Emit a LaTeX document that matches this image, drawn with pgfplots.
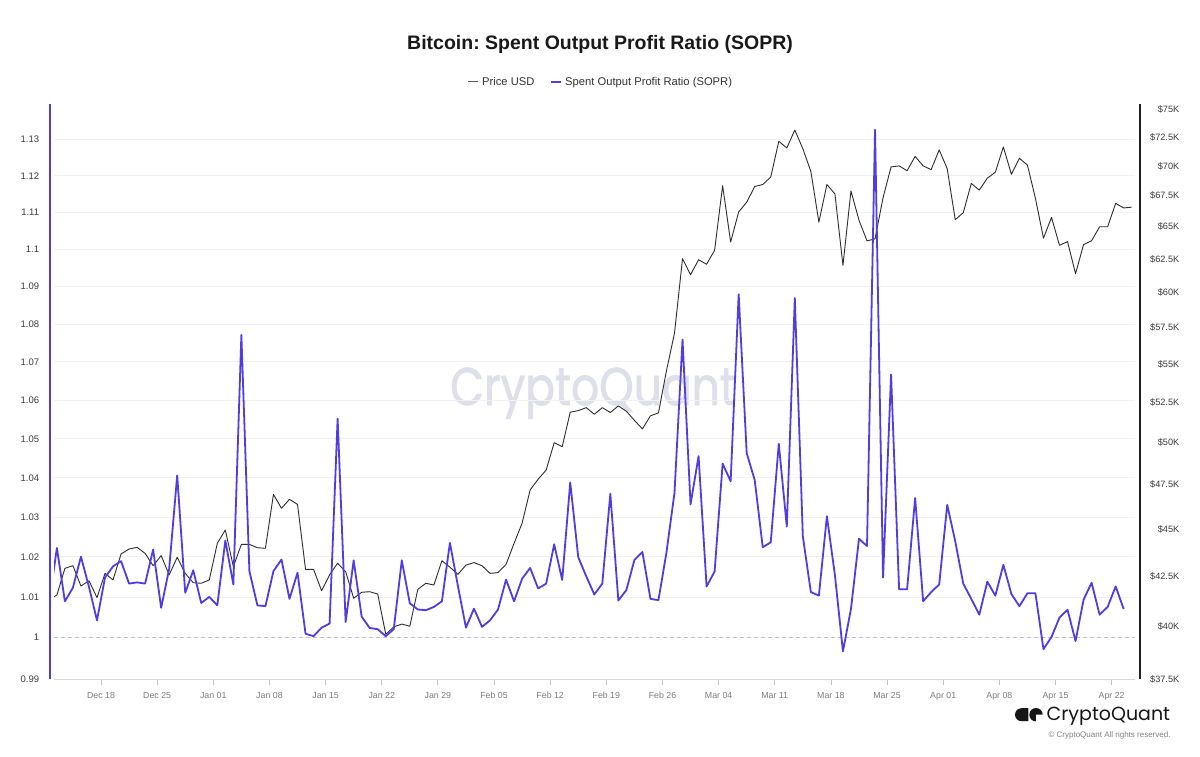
\documentclass[border=0pt]{standalone}
\usepackage{fontspec}
\setmainfont{Liberation Sans}
\newfontfamily\logofont{Poppins}
\newfontfamily\wmfont{Poppins}[FakeBold=1.6]
\usepackage{pgfplots}
\pgfplotsset{compat=1.18}
\usepackage{pgfplotstable}
\definecolor{sopr}{RGB}{80,60,225}
\definecolor{priceline}{RGB}{45,45,45}
\definecolor{ticktext}{RGB}{60,60,60}
\definecolor{xtext}{RGB}{125,125,125}
\definecolor{wmark}{RGB}{223,223,233}
\definecolor{logoblack}{RGB}{22,22,22}
\definecolor{zeroline}{RGB}{190,190,212}
\frenchspacing

\pgfplotsset{
  lny/.style={
    y coord trafo/.code={\pgfmathparse{ln(##1)}},
    y coord inv trafo/.code={\pgfmathparse{exp(##1)}},
  },
}

% x = days after Dec 18 2023 (data points sit at mid-day)
\pgfplotstableread{
x p
-6.5 41.30
-5.5 41.53
-4.5 42.90
-3.5 43.04
-2.5 41.99
-1.5 42.26
-0.5 41.40
0.5 42.64
1.5 42.30
2.5 43.66
3.5 43.92
4.5 44.01
5.5 43.69
6.5 43.04
7.5 43.57
8.5 42.56
9.5 43.48
10.5 42.64
11.5 42.16
12.5 42.13
13.5 42.30
14.5 44.23
15.5 44.95
16.5 42.99
17.5 44.17
18.5 44.17
19.5 43.99
20.5 43.96
21.5 46.94
22.5 46.15
23.5 46.66
24.5 46.37
25.5 42.85
26.5 42.85
27.5 41.75
28.5 42.56
29.5 43.17
30.5 42.73
31.5 41.37
32.5 41.67
33.5 41.70
34.5 41.58
35.5 39.60
36.5 39.96
37.5 40.09
38.5 39.99
39.5 41.82
40.5 42.13
41.5 42.04
42.5 43.30
43.5 42.96
44.5 42.59
45.5 43.07
46.5 43.20
47.5 43.04
48.5 42.64
49.5 42.68
50.5 43.11
51.5 44.23
52.5 45.32
53.5 47.19
54.5 47.81
55.5 48.35
56.5 49.98
57.5 49.74
58.5 51.87
59.5 51.97
60.5 52.16
61.5 51.74
62.5 52.16
63.5 51.85
64.5 52.27
65.5 51.93
66.5 51.36
67.5 50.83
68.5 51.64
69.5 51.83
70.5 54.56
71.5 57.11
72.5 62.52
73.5 61.31
74.5 62.44
75.5 62.10
76.5 63.16
77.5 68.33
78.5 63.80
79.5 66.18
80.5 66.96
81.5 68.26
82.5 68.42
83.5 69.04
84.5 72.11
85.5 71.53
86.5 73.11
87.5 71.46
88.5 69.52
89.5 65.36
90.5 68.42
91.5 67.64
92.5 62.01
93.5 67.89
94.5 65.51
95.5 63.89
96.5 64.04
97.5 67.33
98.5 69.90
99.5 69.99
100.5 69.58
101.5 70.80
102.5 69.99
103.5 69.67
104.5 71.36
105.5 69.74
106.5 65.56
107.5 66.11
108.5 68.51
109.5 67.96
110.5 68.95
111.5 69.45
112.5 71.62
113.5 69.27
114.5 70.64
115.5 70.06
116.5 67.28
117.5 64.09
118.5 65.74
119.5 63.54
120.5 63.83
121.5 61.39
122.5 63.60
123.5 63.90
124.5 64.99
125.5 64.99
126.5 66.87
127.5 66.50
128.5 66.56
}\pricetable

\pgfplotstableread{
x s
-6.5 1.0080
-5.5 1.0222
-4.5 1.0089
-3.5 1.0123
-2.5 1.0200
-1.5 1.0125
-0.5 1.0042
0.5 1.0148
1.5 1.0176
2.5 1.0189
3.5 1.0133
4.5 1.0136
5.5 1.0133
6.5 1.0218
7.5 1.0073
8.5 1.0170
9.5 1.0406
10.5 1.0110
11.5 1.0166
12.5 1.0085
13.5 1.0100
14.5 1.0079
15.5 1.0241
16.5 1.0131
17.5 1.0771
18.5 1.0164
19.5 1.0079
20.5 1.0077
21.5 1.0164
22.5 1.0193
23.5 1.0095
24.5 1.0160
25.5 1.0009
26.5 1.0003
27.5 1.0024
28.5 1.0034
29.5 1.0552
30.5 1.0038
31.5 1.0191
32.5 1.0051
33.5 1.0023
34.5 1.0020
35.5 1.0003
36.5 1.0020
37.5 1.0191
38.5 1.0084
39.5 1.0069
40.5 1.0067
41.5 1.0075
42.5 1.0089
43.5 1.0235
44.5 1.0127
45.5 1.0024
46.5 1.0071
47.5 1.0026
48.5 1.0042
49.5 1.0069
50.5 1.0143
51.5 1.0089
52.5 1.0145
53.5 1.0172
54.5 1.0121
55.5 1.0133
56.5 1.0231
57.5 1.0142
58.5 1.0388
59.5 1.0199
60.5 1.0151
61.5 1.0106
62.5 1.0133
63.5 1.0359
64.5 1.0091
65.5 1.0117
66.5 1.0192
67.5 1.0212
68.5 1.0095
69.5 1.0092
70.5 1.0211
71.5 1.0362
72.5 1.0759
73.5 1.0332
74.5 1.0455
75.5 1.0126
76.5 1.0163
77.5 1.0436
78.5 1.0391
79.5 1.0879
80.5 1.0463
81.5 1.0394
82.5 1.0224
83.5 1.0236
84.5 1.0487
85.5 1.0276
86.5 1.0869
87.5 1.0251
88.5 1.0112
89.5 1.0103
90.5 1.0302
91.5 1.0154
92.5 0.9966
93.5 1.0070
94.5 1.0245
95.5 1.0227
96.5 1.1327
97.5 1.0148
98.5 1.0667
99.5 1.0119
100.5 1.0119
101.5 1.0348
102.5 1.0089
103.5 1.0112
104.5 1.0131
105.5 1.0331
106.5 1.0239
107.5 1.0133
108.5 1.0095
109.5 1.0056
110.5 1.0138
111.5 1.0103
112.5 1.0180
113.5 1.0107
114.5 1.0077
115.5 1.0109
116.5 1.0109
117.5 0.9971
118.5 1.0001
119.5 1.0049
120.5 1.0068
121.5 0.9991
122.5 1.0093
123.5 1.0135
124.5 1.0056
125.5 1.0075
126.5 1.0126
127.5 1.0070
}\soprtable

\begin{document}
\begin{tikzpicture}
\fill[white] (0pt,0pt) rectangle (1200pt,756pt);
\path[use as bounding box] (0pt,0pt) rectangle (1200pt,756pt);

% watermark
\node[anchor=base, inner sep=0pt, text=wmark, font=\wmfont\fontsize{53}{56}\selectfont, xscale=0.83] at (593pt,351pt) {CryptoQuant};

% frame axis: grid, x ticks, left labels
\begin{axis}[
  at={(54pt,77pt)}, anchor=south west, scale only axis,
  width=1081pt, height=575pt,
  xmin=-5.86, xmax=128.91,
  lny, ymin=0.99, ymax=1.1399,
  axis line style={draw=none},
  /pgf/number format/assume math mode=true,
  tick pos=left,
  tick align=inside, major tick length=6pt,
  xtick={0,7,...,126},
  xticklabels={Dec 18,Dec 25,Jan 01,Jan 08,Jan 15,Jan 22,Jan 29,Feb 05,Feb 12,Feb 19,Feb 26,Mar 04,Mar 11,Mar 18,Mar 25,Apr 01,Apr 08,Apr 15,Apr 22},
  x tick style={draw=black!22, line width=0.8pt, yshift=-6pt},
  xticklabel style={anchor=base, inner sep=0pt, yshift=-19.2pt, text=xtext, font=\fontsize{8.8}{10}\selectfont},
  ytick={0.99,1,1.01,1.02,1.03,1.04,1.05,1.06,1.07,1.08,1.09,1.1,1.11,1.12,1.13},
  yticklabels={0.99,1,1.01,1.02,1.03,1.04,1.05,1.06,1.07,1.08,1.09,1.1,1.11,1.12,1.13},
  y tick style={draw=none},
  yticklabel style={anchor=base east, inner sep=0pt, xshift=-14.7pt, yshift=-3.4pt, text=ticktext, font=\fontsize{9.5}{11}\selectfont},
  ymajorgrids, grid style={draw=black!5, line width=0.8pt},
]
\draw[black!15, line width=0.8pt] (rel axis cs:0,0) -- (rel axis cs:1,0);
\draw[zeroline, line width=1pt, dash pattern=on 4pt off 3pt] (axis cs:-5.86,1) -- (axis cs:128.91,1);
\end{axis}

% price axis (right)
\begin{axis}[
  at={(54pt,77pt)}, anchor=south west, scale only axis,
  width=1081pt, height=575pt,
  xmin=-5.86, xmax=128.91,
  lny, ymin=37.5, ymax=75.454,
  axis line style={draw=none},
  /pgf/number format/assume math mode=true,
  xtick=\empty,
  ytick={37.5,40,42.5,45,47.5,50,52.5,55,57.5,60,62.5,65,67.5,70,72.5,75},
  yticklabels={\$37.5K,\$40K,\$42.5K,\$45K,\$47.5K,\$50K,\$52.5K,\$55K,\$57.5K,\$60K,\$62.5K,\$65K,\$67.5K,\$70K,\$72.5K,\$75K},
  yticklabel pos=right,
  tick align=inside,
  y tick style={draw=none},
  yticklabel style={anchor=base east, inner sep=0pt, xshift=44.5pt, yshift=-3.3pt, text=ticktext, font=\fontsize{9.2}{11}\selectfont},
]
\addplot[priceline, line width=0.9pt, line join=round] table[x=x, y=p] {\pricetable};
\end{axis}

% SOPR axis (left)
\begin{axis}[
  at={(54pt,77pt)}, anchor=south west, scale only axis,
  width=1081pt, height=575pt,
  xmin=-5.86, xmax=128.91,
  lny, ymin=0.99, ymax=1.1399,
  hide axis]
\addplot[sopr, line width=1.8pt, line join=round] table[x=x, y=s] {\soprtable};
\end{axis}

% axis lines
\draw[sopr, line width=2pt] (50pt,77pt) -- (50pt,652pt);
\draw[black!88, line width=2pt] (1139.5pt,77pt) -- (1139.5pt,652pt);

% title
\node[anchor=base, inner sep=0pt, font=\bfseries\fontsize{19.5}{23}\selectfont, text=black!90] at (600pt,706pt) {Bitcoin: Spent Output Profit Ratio (SOPR)};

% legend
\draw[priceline!80, line width=1.3pt] (468pt,674.3pt) -- (478pt,674.3pt);
\node[anchor=base west, inner sep=0pt, font=\fontsize{11.2}{13}\selectfont, text=black!80] at (482pt,670.3pt) {Price USD};
\draw[sopr, line width=2pt] (551pt,674.3pt) -- (561pt,674.3pt);
\node[anchor=base west, inner sep=0pt, font=\fontsize{11.2}{13}\selectfont, text=black!80] at (565pt,670.3pt) {Spent Output Profit Ratio (SOPR)};

% logo
\fill[logoblack] (1028.3pt,47.8pt) -- (1021.5pt,47.8pt) arc[start angle=90, end angle=270, radius=6.5pt] -- (1028.3pt,34.8pt) -- cycle;
\fill[logoblack] (1036pt,41.3pt) circle[radius=6.7pt];
\fill[white] (1036pt,41.3pt) -- (1036pt,34pt) arc[start angle=-90, end angle=0, radius=7.3pt] -- cycle;
\node[anchor=base west, inner sep=0pt, font=\logofont\fontsize{19}{22}\selectfont, text=logoblack] at (1046.5pt,36pt) {CryptoQuant};
\node[anchor=base east, inner sep=0pt, font=\fontsize{8}{9}\selectfont, text=black!50] at (1170.7pt,18.5pt) {© CryptoQuant All rights reserved.};
\end{tikzpicture}
\end{document}
